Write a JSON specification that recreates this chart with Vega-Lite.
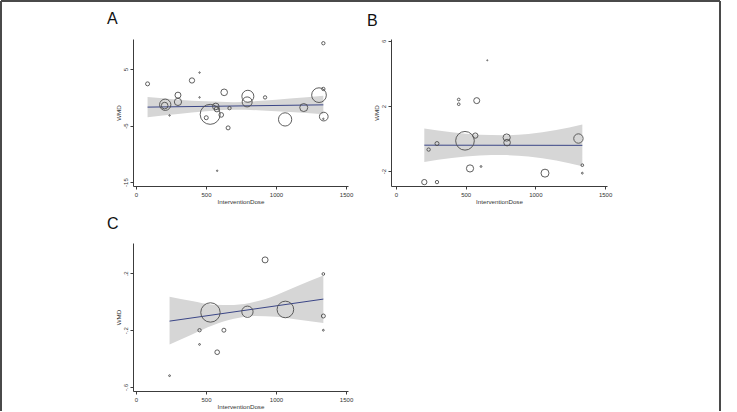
{
  "$schema": "https://vega.github.io/schema/vega-lite/v6.json",
  "autosize": {"type": "pad"},
  "padding": 0,
  "background": "white",
  "columns": 2,
  "spacing": {"column": 43, "row": 57},
  "bounds": "flush",
  "config": {
    "view": {"stroke": null},
    "font": "Liberation Sans",
    "axis": {
      "grid": false,
      "domainColor": "#3c3c3c",
      "domainWidth": 1,
      "tickColor": "#3c3c3c",
      "tickSize": 3,
      "labelFont": "Liberation Sans",
      "labelFontSize": 6,
      "labelColor": "#333333",
      "labelPadding": 2,
      "labelFlush": false,
      "labelOverlap": false,
      "labelBound": false,
      "titleFont": "Liberation Sans",
      "titleFontSize": 6.2,
      "titleFontWeight": "normal",
      "titleColor": "#333333",
      "titlePadding": 1
    }
  },
  "datasets": {
    "pts": [
      {"panel": "A", "dose": 83, "wmd": 2.4, "weight": 4},
      {"panel": "A", "dose": 209, "wmd": -1.3, "weight": 32},
      {"panel": "A", "dose": 205, "wmd": -1.45, "weight": 11},
      {"panel": "A", "dose": 300, "wmd": 0.4, "weight": 9},
      {"panel": "A", "dose": 300, "wmd": -0.8, "weight": 13},
      {"panel": "A", "dose": 240, "wmd": -3.2, "weight": 0.5},
      {"panel": "A", "dose": 400, "wmd": 3.0, "weight": 7},
      {"panel": "A", "dose": 454, "wmd": 4.4, "weight": 0.5},
      {"panel": "A", "dose": 454, "wmd": 0, "weight": 0.5},
      {"panel": "A", "dose": 502, "wmd": -3.6, "weight": 4},
      {"panel": "A", "dose": 530, "wmd": -3.0, "weight": 100},
      {"panel": "A", "dose": 570, "wmd": -1.6, "weight": 11},
      {"panel": "A", "dose": 578, "wmd": -2.1, "weight": 7},
      {"panel": "A", "dose": 609, "wmd": -3.1, "weight": 5.4},
      {"panel": "A", "dose": 630, "wmd": 0.9, "weight": 11},
      {"panel": "A", "dose": 580, "wmd": -13, "weight": 0.5},
      {"panel": "A", "dose": 658, "wmd": -5.4, "weight": 4},
      {"panel": "A", "dose": 668, "wmd": -1.9, "weight": 2.8},
      {"panel": "A", "dose": 799, "wmd": 0.2, "weight": 36},
      {"panel": "A", "dose": 794, "wmd": -0.8, "weight": 25},
      {"panel": "A", "dose": 922, "wmd": 0, "weight": 2.8},
      {"panel": "A", "dose": 1065, "wmd": -3.9, "weight": 44},
      {"panel": "A", "dose": 1198, "wmd": -1.8, "weight": 16},
      {"panel": "A", "dose": 1307, "wmd": 0.4, "weight": 54},
      {"panel": "A", "dose": 1338, "wmd": 1.5, "weight": 2.8},
      {"panel": "A", "dose": 1338, "wmd": 9.6, "weight": 2.8},
      {"panel": "A", "dose": 1341, "wmd": -3.4, "weight": 19},
      {"panel": "A", "dose": 1338, "wmd": -3.8, "weight": 0.5},
      {"panel": "B", "dose": 203, "wmd": -2.68, "weight": 7},
      {"panel": "B", "dose": 234, "wmd": -0.68, "weight": 2.8},
      {"panel": "B", "dose": 294, "wmd": -0.31, "weight": 4},
      {"panel": "B", "dose": 294, "wmd": -2.68, "weight": 2.8},
      {"panel": "B", "dose": 450, "wmd": 2.4, "weight": 1.8},
      {"panel": "B", "dose": 450, "wmd": 2.11, "weight": 1.8},
      {"panel": "B", "dose": 495, "wmd": -0.14, "weight": 87},
      {"panel": "B", "dose": 531, "wmd": -1.84, "weight": 13},
      {"panel": "B", "dose": 569, "wmd": 0.18, "weight": 7},
      {"panel": "B", "dose": 579, "wmd": 2.33, "weight": 9},
      {"panel": "B", "dose": 610, "wmd": -1.72, "weight": 0.8},
      {"panel": "B", "dose": 655, "wmd": 4.81, "weight": 0.3},
      {"panel": "B", "dose": 794, "wmd": 0.06, "weight": 13},
      {"panel": "B", "dose": 797, "wmd": -0.25, "weight": 11},
      {"panel": "B", "dose": 1069, "wmd": -2.13, "weight": 16},
      {"panel": "B", "dose": 1309, "wmd": 0, "weight": 22},
      {"panel": "B", "dose": 1337, "wmd": -1.64, "weight": 1.8},
      {"panel": "B", "dose": 1337, "wmd": -2.13, "weight": 0.8},
      {"panel": "C", "dose": 240, "wmd": -0.52, "weight": 0.8},
      {"panel": "C", "dose": 454, "wmd": -0.2, "weight": 2.8},
      {"panel": "C", "dose": 454, "wmd": -0.3, "weight": 0.8},
      {"panel": "C", "dose": 532, "wmd": -0.075, "weight": 94},
      {"panel": "C", "dose": 580, "wmd": -0.355, "weight": 5.4},
      {"panel": "C", "dose": 628, "wmd": -0.2, "weight": 4},
      {"panel": "C", "dose": 796, "wmd": -0.07, "weight": 32},
      {"panel": "C", "dose": 922, "wmd": 0.295, "weight": 9},
      {"panel": "C", "dose": 1067, "wmd": -0.054, "weight": 69},
      {"panel": "C", "dose": 1338, "wmd": 0.196, "weight": 1.8},
      {"panel": "C", "dose": 1338, "wmd": -0.1, "weight": 4},
      {"panel": "C", "dose": 1338, "wmd": -0.2, "weight": 0.8}
    ],
    "band": [
      {"panel": "A", "dose": 83, "lo": -3.5, "hi": 0.05},
      {"panel": "A", "dose": 300, "lo": -2.95, "hi": -0.4},
      {"panel": "A", "dose": 500, "lo": -2.45, "hi": -0.7},
      {"panel": "A", "dose": 700, "lo": -2.2, "hi": -0.85},
      {"panel": "A", "dose": 900, "lo": -2.3, "hi": -0.6},
      {"panel": "A", "dose": 1100, "lo": -2.6, "hi": -0.2},
      {"panel": "A", "dose": 1338, "lo": -3.0, "hi": 0.3},
      {"panel": "B", "dose": 203, "lo": -1.44, "hi": 0.62},
      {"panel": "B", "dose": 400, "lo": -1.2, "hi": 0.38},
      {"panel": "B", "dose": 600, "lo": -1.05, "hi": 0.23},
      {"panel": "B", "dose": 770, "lo": -1.02, "hi": 0.2},
      {"panel": "B", "dose": 950, "lo": -1.1, "hi": 0.28},
      {"panel": "B", "dose": 1150, "lo": -1.35, "hi": 0.52},
      {"panel": "B", "dose": 1337, "lo": -1.7, "hi": 0.86},
      {"panel": "C", "dose": 240, "lo": -0.3, "hi": 0.035},
      {"panel": "C", "dose": 400, "lo": -0.23, "hi": 0.005},
      {"panel": "C", "dose": 550, "lo": -0.165, "hi": -0.02},
      {"panel": "C", "dose": 700, "lo": -0.12, "hi": -0.022},
      {"panel": "C", "dose": 850, "lo": -0.1, "hi": 0.0},
      {"panel": "C", "dose": 1000, "lo": -0.105, "hi": 0.047},
      {"panel": "C", "dose": 1150, "lo": -0.125, "hi": 0.11},
      {"panel": "C", "dose": 1338, "lo": -0.15, "hi": 0.185}
    ],
    "fit": [
      {"panel": "A", "dose": 83, "wmd": -1.72},
      {"panel": "A", "dose": 1338, "wmd": -1.32},
      {"panel": "B", "dose": 203, "wmd": -0.41},
      {"panel": "B", "dose": 1337, "wmd": -0.42},
      {"panel": "C", "dose": 240, "wmd": -0.136},
      {"panel": "C", "dose": 1338, "wmd": 0.019}
    ],
    "one": [{}]
  },
  "concat": [
    {
      "width": 215,
      "height": 147,
      "layer": [
        {
          "data": {"name": "band"},
          "transform": [{"filter": "datum.panel === 'A'"}],
          "mark": {"type": "area", "color": "#d6d6d6", "opacity": 1, "interpolate": "monotone"},
          "encoding": {
            "x": {"field": "dose", "type": "quantitative", "scale": {"domain": [-21, 1514], "nice": false, "zero": false}},
            "y": {"field": "lo", "type": "quantitative", "scale": {"domain": [-15.7, 10.35], "nice": false, "zero": false}},
            "y2": {"field": "hi"}
          }
        },
        {
          "data": {"name": "fit"},
          "transform": [{"filter": "datum.panel === 'A'"}],
          "mark": {"type": "line", "color": "#3b4687", "strokeWidth": 1},
          "encoding": {
            "x": {"field": "dose", "type": "quantitative", "scale": {"domain": [-21, 1514], "nice": false, "zero": false}},
            "y": {"field": "wmd", "type": "quantitative", "scale": {"domain": [-15.7, 10.35], "nice": false, "zero": false}}
          }
        },
        {
          "data": {"name": "pts"},
          "transform": [{"filter": "datum.panel === 'A'"}],
          "mark": {"type": "point", "shape": "circle", "filled": false, "stroke": "#4d4d4d", "strokeWidth": 0.9, "opacity": 1},
          "encoding": {
            "x": {"field": "dose", "type": "quantitative", "scale": {"domain": [-21, 1514], "nice": false, "zero": false},
                  "axis": {"values": [0, 500, 1000, 1500], "title": "InterventionDose", "labelExpr": "'' + datum.value", "labelOverlap": false}},
            "y": {"field": "wmd", "type": "quantitative", "scale": {"domain": [-15.7, 10.35], "nice": false, "zero": false},
                  "axis": {"values": [-15, -10, -5, 0, 5, 10], "title": "WMD", "labelAngle": -90, "labelExpr": "'' + datum.value", "labelOverlap": false}},
            "size": {"field": "weight", "type": "quantitative", "scale": {"type": "linear", "domain": [0, 100], "range": [0, 400], "zero": true}, "legend": null}
          }
        },
        {
          "data": {"name": "one"},
          "mark": {"type": "text", "text": "A", "fontSize": 16, "align": "left", "baseline": "alphabetic", "color": "#111111", "font": "Liberation Sans"},
          "encoding": {
            "x": {"datum": -206.6, "type": "quantitative", "scale": {"domain": [-21, 1514], "nice": false, "zero": false}},
            "y": {"datum": 13.01, "type": "quantitative", "scale": {"domain": [-15.7, 10.35], "nice": false, "zero": false}}
          }
        },
        {
          "data": {"name": "one"},
          "mark": {"type": "rule", "stroke": "#4a4a4a", "strokeWidth": 2},
          "encoding": {
            "x": {"datum": -963.4, "type": "quantitative", "scale": {"domain": [-21, 1514], "nice": false, "zero": false}},
            "y": {"datum": 17.08, "type": "quantitative", "scale": {"domain": [-15.7, 10.35], "nice": false, "zero": false}},
            "y2": {"datum": -55.57}
          }
        },
        {
          "data": {"name": "one"},
          "mark": {"type": "rule", "stroke": "#4a4a4a", "strokeWidth": 2},
          "encoding": {
            "x": {"datum": 4169.9, "type": "quantitative", "scale": {"domain": [-21, 1514], "nice": false, "zero": false}},
            "y": {"datum": 17.08, "type": "quantitative", "scale": {"domain": [-15.7, 10.35], "nice": false, "zero": false}},
            "y2": {"datum": -55.57}
          }
        },
        {
          "data": {"name": "one"},
          "mark": {"type": "rule", "stroke": "#4a4a4a", "strokeWidth": 2},
          "encoding": {
            "x": {"datum": -963.4, "type": "quantitative", "scale": {"domain": [-21, 1514], "nice": false, "zero": false}},
            "x2": {"datum": 4169.9},
            "y": {"datum": 17.08, "type": "quantitative", "scale": {"domain": [-15.7, 10.35], "nice": false, "zero": false}}
          }
        }
      ]
    },
    {
      "width": 216,
      "height": 147,
      "layer": [
        {
          "data": {"name": "band"},
          "transform": [{"filter": "datum.panel === 'B'"}],
          "mark": {"type": "area", "color": "#d6d6d6", "opacity": 1, "interpolate": "monotone"},
          "encoding": {
            "x": {"field": "dose", "type": "quantitative", "scale": {"domain": [-36, 1514], "nice": false, "zero": false}},
            "y": {"field": "lo", "type": "quantitative", "scale": {"domain": [-2.92, 6.12], "nice": false, "zero": false}},
            "y2": {"field": "hi"}
          }
        },
        {
          "data": {"name": "fit"},
          "transform": [{"filter": "datum.panel === 'B'"}],
          "mark": {"type": "line", "color": "#3b4687", "strokeWidth": 1},
          "encoding": {
            "x": {"field": "dose", "type": "quantitative", "scale": {"domain": [-36, 1514], "nice": false, "zero": false}},
            "y": {"field": "wmd", "type": "quantitative", "scale": {"domain": [-2.92, 6.12], "nice": false, "zero": false}}
          }
        },
        {
          "data": {"name": "pts"},
          "transform": [{"filter": "datum.panel === 'B'"}],
          "mark": {"type": "point", "shape": "circle", "filled": false, "stroke": "#4d4d4d", "strokeWidth": 0.9, "opacity": 1},
          "encoding": {
            "x": {"field": "dose", "type": "quantitative", "scale": {"domain": [-36, 1514], "nice": false, "zero": false},
                  "axis": {"values": [0, 500, 1000, 1500], "title": "InterventionDose", "labelExpr": "'' + datum.value", "labelOverlap": false}},
            "y": {"field": "wmd", "type": "quantitative", "scale": {"domain": [-2.92, 6.12], "nice": false, "zero": false},
                  "axis": {"values": [-2, 0, 2, 4, 6], "title": "WMD", "labelAngle": -90, "labelExpr": "'' + datum.value", "labelOverlap": false}},
            "size": {"field": "weight", "type": "quantitative", "scale": {"type": "linear", "domain": [0, 100], "range": [0, 400], "zero": true}, "legend": null}
          }
        },
        {
          "data": {"name": "one"},
          "mark": {"type": "text", "text": "B", "fontSize": 16, "align": "left", "baseline": "alphabetic", "color": "#111111", "font": "Liberation Sans"},
          "encoding": {
            "x": {"datum": -208.2, "type": "quantitative", "scale": {"domain": [-36, 1514], "nice": false, "zero": false}},
            "y": {"datum": 6.95, "type": "quantitative", "scale": {"domain": [-2.92, 6.12], "nice": false, "zero": false}}
          }
        }
      ]
    },
    {
      "width": 215,
      "height": 148,
      "layer": [
        {
          "data": {"name": "band"},
          "transform": [{"filter": "datum.panel === 'C'"}],
          "mark": {"type": "area", "color": "#d6d6d6", "opacity": 1, "interpolate": "monotone"},
          "encoding": {
            "x": {"field": "dose", "type": "quantitative", "scale": {"domain": [-21, 1514], "nice": false, "zero": false}},
            "y": {"field": "lo", "type": "quantitative", "scale": {"domain": [-0.628, 0.414], "nice": false, "zero": false}},
            "y2": {"field": "hi"}
          }
        },
        {
          "data": {"name": "fit"},
          "transform": [{"filter": "datum.panel === 'C'"}],
          "mark": {"type": "line", "color": "#3b4687", "strokeWidth": 1},
          "encoding": {
            "x": {"field": "dose", "type": "quantitative", "scale": {"domain": [-21, 1514], "nice": false, "zero": false}},
            "y": {"field": "wmd", "type": "quantitative", "scale": {"domain": [-0.628, 0.414], "nice": false, "zero": false}}
          }
        },
        {
          "data": {"name": "pts"},
          "transform": [{"filter": "datum.panel === 'C'"}],
          "mark": {"type": "point", "shape": "circle", "filled": false, "stroke": "#4d4d4d", "strokeWidth": 0.9, "opacity": 1},
          "encoding": {
            "x": {"field": "dose", "type": "quantitative", "scale": {"domain": [-21, 1514], "nice": false, "zero": false},
                  "axis": {"values": [0, 500, 1000, 1500], "title": "InterventionDose", "labelExpr": "'' + datum.value", "labelOverlap": false}},
            "y": {"field": "wmd", "type": "quantitative", "scale": {"domain": [-0.628, 0.414], "nice": false, "zero": false},
                  "axis": {"values": [-0.6, -0.4, -0.2, 0, 0.2, 0.4], "title": "WMD", "labelAngle": -90, "labelExpr": "replace('' + datum.value, '0.', '.')", "labelOverlap": false}},
            "size": {"field": "weight", "type": "quantitative", "scale": {"type": "linear", "domain": [0, 100], "range": [0, 400], "zero": true}, "legend": null}
          }
        },
        {
          "data": {"name": "one"},
          "mark": {"type": "text", "text": "C", "fontSize": 16, "align": "left", "baseline": "alphabetic", "color": "#111111", "font": "Liberation Sans"},
          "encoding": {
            "x": {"datum": -206.6, "type": "quantitative", "scale": {"domain": [-21, 1514], "nice": false, "zero": false}},
            "y": {"datum": 0.5126, "type": "quantitative", "scale": {"domain": [-0.628, 0.414], "nice": false, "zero": false}}
          }
        }
      ]
    }
  ]
}
